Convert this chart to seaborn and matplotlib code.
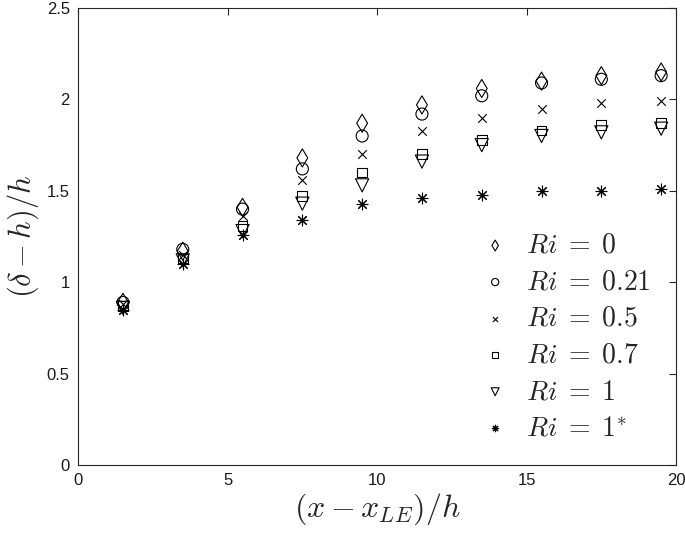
import pandas as pd
import matplotlib
matplotlib.use('Agg')
import matplotlib.pyplot as plt
import seaborn as sns

# ── Data ─────────────────────────────────────────────────────────
x_pos = [1.5, 3.5, 5.5, 7.5, 9.5, 11.5, 13.5, 15.5, 17.5, 19.5]

ri_0    = [0.89, 1.17, 1.41, 1.68, 1.87, 1.97, 2.06, 2.10, 2.13, 2.15]
ri_021  = [0.89, 1.18, 1.40, 1.62, 1.80, 1.92, 2.02, 2.09, 2.11, 2.13]
ri_05   = [0.88, 1.15, 1.36, 1.56, 1.70, 1.83, 1.90, 1.95, 1.98, 1.99]
ri_07   = [0.87, 1.13, 1.31, 1.47, 1.60, 1.70, 1.78, 1.83, 1.86, 1.87]
ri_1    = [0.86, 1.12, 1.28, 1.43, 1.53, 1.66, 1.75, 1.80, 1.82, 1.84]
ri_1s   = [0.85, 1.10, 1.26, 1.34, 1.43, 1.46, 1.48, 1.50, 1.50, 1.51]

labels = [r"$Ri\;=\;0$", r"$Ri\;=\;0.21$", r"$Ri\;=\;0.5$",
          r"$Ri\;=\;0.7$", r"$Ri\;=\;1$", r"$Ri\;=\;1^{*}$"]
series = [ri_0, ri_021, ri_05, ri_07, ri_1, ri_1s]
markers = ["d", "o", "x", "s", "v", (8, 2, 0)]
sizes = [85, 75, 38, 50, 90, 60]

df = pd.concat(
    [pd.DataFrame({"x": x_pos, "y": v, "series": lab}) for lab, v in zip(labels, series)],
    ignore_index=True,
)

# ── Style ────────────────────────────────────────────────────────
sns.set_theme(style="white")
plt.rcParams["font.family"] = ["Liberation Sans", "DejaVu Sans"]
plt.rcParams["mathtext.fontset"] = "cm"

fig = plt.figure(figsize=(6.85, 5.34), dpi=100)
ax = fig.add_axes([0.114, 0.129, 0.873, 0.856])

for lab, m, s in zip(labels, markers, sizes):
    sub = df[df["series"] == lab]
    filled = m in ("d", "o", "s", "v")
    if filled:
        sns.scatterplot(data=sub, x="x", y="y", marker=m, s=s, ax=ax, label=lab,
                        facecolors="none", edgecolors="black", linewidth=0.8)
    else:
        sns.scatterplot(data=sub, x="x", y="y", marker=m, s=s, ax=ax, label=lab,
                        color="black", linewidth=0.8)

ax.set_xlim(0, 20)
ax.set_ylim(0, 2.5)
ax.set_xticks([0, 5, 10, 15, 20])
ax.set_yticks([0, 0.5, 1, 1.5, 2, 2.5])
ax.set_xticklabels(["0", "5", "10", "15", "20"])
ax.set_yticklabels(["0", "0.5", "1", "1.5", "2", "2.5"])
ax.tick_params(direction="in", length=5, width=0.8, top=True, right=True,
               labelsize=12, colors="#262626", pad=6)
ax.tick_params(axis="both", labelcolor="#1a1a1a")
for sp in ax.spines.values():
    sp.set_color("#262626")
    sp.set_linewidth(0.8)

ax.set_xlabel(r"$(x-x_{LE})/h$", fontsize=23, labelpad=2)
ax.set_ylabel(r"$(\delta-h)/h$", fontsize=22, labelpad=4)

ax.legend(loc="lower right", bbox_to_anchor=(0.985, 0.015), frameon=False,
          fontsize=20, markerscale=0.6, handletextpad=0.5, labelspacing=0.38,
          handlelength=1.2, borderaxespad=0.2)

plt.savefig("out.png", dpi=100)
plt.close()
